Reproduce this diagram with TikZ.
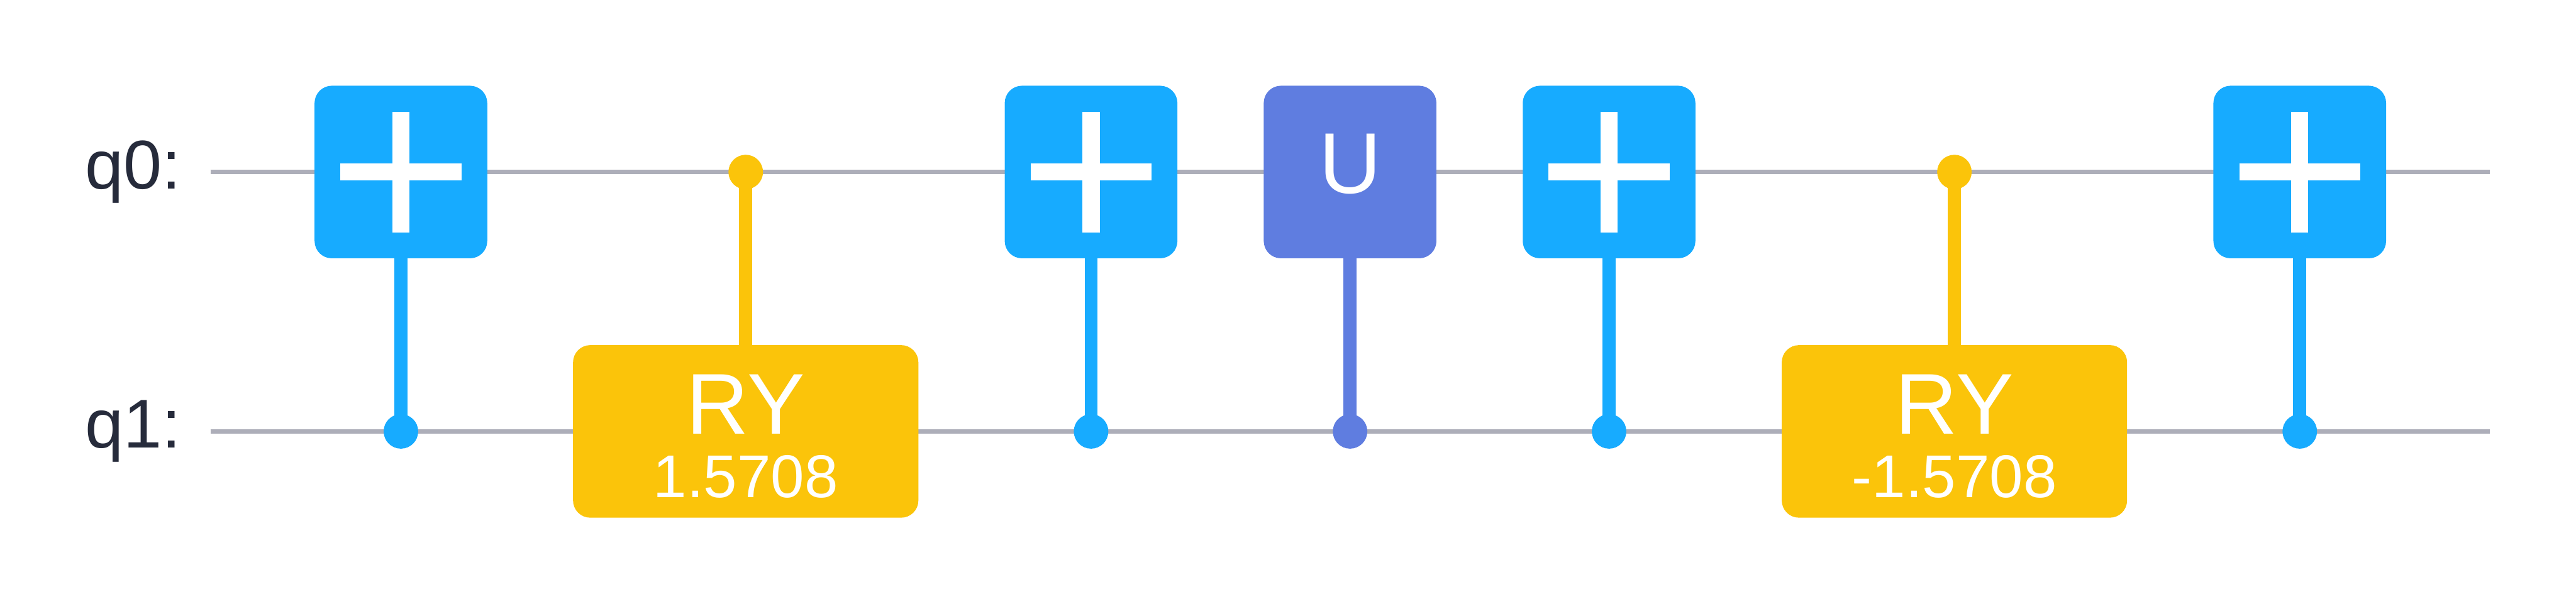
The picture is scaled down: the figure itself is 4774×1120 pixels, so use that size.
\documentclass[tikz,border=0pt]{standalone}
\usepackage{fontspec}
\setmainfont{Liberation Sans}
\definecolor{cnotblue}{HTML}{17ABFF}
\definecolor{ublue}{HTML}{5F7DE0}
\definecolor{ryyellow}{HTML}{FBC40A}
\definecolor{wiregrey}{HTML}{ADAEB9}
\definecolor{qtext}{HTML}{262B3B}
\tikzset{
  wire/.style={draw=wiregrey,line width=4pt},
  gatebox/.style={rectangle,rounded corners=16pt,inner sep=0pt,minimum height=160pt,minimum width=160pt,fill=#1},
  widebox/.style={gatebox=#1,minimum width=320pt},
  ctrldot/.style={circle,inner sep=0pt,minimum size=32pt,fill=#1},
  ctrlline/.style={draw=#1,line width=12pt},
  plusbar/.style={draw=white,line width=16pt},
  qlabel/.style={anchor=base west,inner sep=0pt,text=qtext,font=\fontsize{64}{64}\selectfont},
  gatetext/.style={anchor=base,inner sep=0pt,text=white,font=\fontsize{80}{80}\selectfont},
  paramtext/.style={anchor=base,inner sep=0pt,text=white,font=\fontsize{56}{56}\selectfont},
}
\begin{document}
\begin{tikzpicture}[x=0.5pt,y=-0.5pt]
\useasboundingbox (0,0) rectangle (4774,1120);
\fill[white] (0,0) rectangle (4774,1120);
% wires
\coordinate (w0a) at (390,319);
\coordinate (w0b) at (4614,319);
\coordinate (w1a) at (390,800);
\coordinate (w1b) at (4614,800);
\draw[wire] (w0a) -- (w0b);
\draw[wire] (w1a) -- (w1b);
% labels
\node[qlabel] (l0) at (157,350) {q0:};
\node[qlabel] (l1) at (157,830) {q1:};
% control dots
\node[ctrldot=cnotblue] (c1) at (743,800) {};
\node[ctrldot=ryyellow] (c2) at (1382,319) {};
\node[ctrldot=cnotblue] (c3) at (2022,800) {};
\node[ctrldot=ublue] (c4) at (2502,800) {};
\node[ctrldot=cnotblue] (c5) at (2982,800) {};
\node[ctrldot=ryyellow] (c6) at (3622,319) {};
\node[ctrldot=cnotblue] (c7) at (4262,800) {};
% gates
\node[gatebox=cnotblue] (g1) at (743,319) {};
\node[widebox=ryyellow] (g2) at (1382,800) {};
\node[gatebox=cnotblue] (g3) at (2022,319) {};
\node[gatebox=ublue] (g4) at (2502,319) {};
\node[gatebox=cnotblue] (g5) at (2982,319) {};
\node[widebox=ryyellow] (g6) at (3622,800) {};
\node[gatebox=cnotblue] (g7) at (4262,319) {};
% control lines
\draw[ctrlline=cnotblue] (g1.center) -- (c1.center);
\draw[ctrlline=ryyellow] (c2.center) -- (g2.center);
\draw[ctrlline=cnotblue] (g3.center) -- (c3.center);
\draw[ctrlline=ublue] (g4.center) -- (c4.center);
\draw[ctrlline=cnotblue] (g5.center) -- (c5.center);
\draw[ctrlline=ryyellow] (c6.center) -- (g6.center);
\draw[ctrlline=cnotblue] (g7.center) -- (c7.center);
% plus marks
\foreach \g in {g1,g3,g5,g7}{
  \draw[plusbar] ([xshift=-56pt]\g.center) -- ([xshift=56pt]\g.center);
  \draw[plusbar] ([yshift=-56pt]\g.center) -- ([yshift=56pt]\g.center);
}
% gate texts
\node[gatetext] (tu) at (2502,358) {U};
\node[gatetext] (t2) at (1382,805) {RY};
\node[paramtext] (p2) at (1382,922) {1.5708};
\node[gatetext] (t6) at (3622,805) {RY};
\node[paramtext] (p6) at (3622,922) {-1.5708};
\end{tikzpicture}
\end{document}
